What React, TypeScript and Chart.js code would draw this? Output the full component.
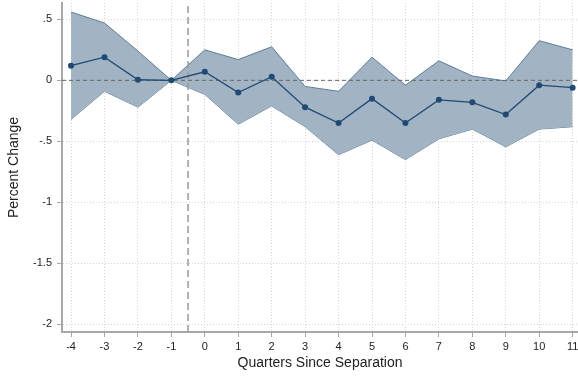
import React, { useEffect, useRef } from "react";
import { Chart, registerables } from "chart.js";

Chart.register(...registerables);

const quarters = [-4, -3, -2, -1, 0, 1, 2, 3, 4, 5, 6, 7, 8, 9, 10, 11];
const estimate = [0.12, 0.19, 0.005, 0, 0.07, -0.1, 0.03, -0.22, -0.35, -0.15, -0.35, -0.16, -0.18, -0.28, -0.04, -0.06];
const upperCI = [0.56, 0.47, 0.24, 0, 0.25, 0.17, 0.275, -0.05, -0.09, 0.19, -0.04, 0.16, 0.035, -0.005, 0.325, 0.25];
const lowerCI = [-0.32, -0.09, -0.22, 0, -0.115, -0.36, -0.21, -0.38, -0.61, -0.49, -0.65, -0.48, -0.4, -0.545, -0.4, -0.38];
const yTicks = [-2, -1.5, -1, -0.5, 0, 0.5];
const xMin = -4.27;
const xMax = 11.16;
const yMin = -2.063;
const yMax = 0.634;
const separationLine = -0.5;

const FONT = "'Liberation Sans', Arial, Helvetica, sans-serif";

export default function App() {
  const ref = useRef<HTMLCanvasElement>(null);
  useEffect(() => {
    document.body.style.margin = "0";
    const ctx = ref.current!;
    const pts = (arr: number[]) => quarters.map((q, i) => ({ x: q, y: arr[i] }));
    const chart = new Chart(ctx, {
      type: "line",
      data: {
        datasets: [
          {
            data: pts(estimate),
            borderColor: "#1f4a73",
            backgroundColor: "#1f4a73",
            borderWidth: 1.3,
            pointRadius: 3,
            pointBorderWidth: 0,
            tension: 0,
            fill: false,
            order: 0,
          },
          {
            data: [{ x: xMin, y: 0 }, { x: xMax, y: 0 }],
            borderColor: "#666666",
            borderWidth: 1,
            borderDash: [4, 3],
            pointRadius: 0,
            fill: false,
            order: 1,
          },
          {
            data: [{ x: separationLine, y: yMin }, { x: separationLine, y: yMax }],
            borderColor: "#999999",
            borderWidth: 1.5,
            borderDash: [7, 4],
            pointRadius: 0,
            fill: false,
            order: 2,
          },
          {
            data: pts(upperCI),
            borderColor: "#5d7d99",
            backgroundColor: "rgb(162,179,196)",
            borderWidth: 1,
            pointRadius: 0,
            tension: 0,
            fill: "+1",
            order: 3,
          },
          {
            data: pts(lowerCI),
            borderColor: "#5d7d99",
            borderWidth: 1,
            pointRadius: 0,
            tension: 0,
            fill: false,
            order: 4,
          },
        ],
      },
      options: {
        animation: false,
        responsive: false,
        events: [],
        layout: { autoPadding: false, padding: { top: 3, left: 0, right: 0, bottom: 0 } },
        plugins: { legend: { display: false }, tooltip: { enabled: false } },
        scales: {
          x: {
            type: "linear",
            min: xMin,
            max: xMax,
            afterBuildTicks: (s: any) => {
              s.ticks = quarters.map((v) => ({ value: v }));
            },
            afterFit: (s: any) => {
              s.height = 44;
              s.paddingLeft = 0;
              s.paddingRight = 0;
            },
            ticks: {
              font: { family: FONT, size: 11 },
              color: "#222222",
              padding: 3,
              maxRotation: 0,
              autoSkip: false,
              callback: (v: any) => String(v),
            },
            grid: {
              color: "#d4d4d4",
              lineWidth: 1,
              tickLength: 5,
              tickColor: "#a8a8a8",
              tickWidth: 1,
              tickBorderDash: [],
            },
            border: { display: true, color: "#a8a8a8", width: 2, dash: [1, 2] },
            title: {
              display: true,
              text: "Quarters Since Separation",
              font: { family: FONT, size: 14 },
              color: "#222222",
              padding: { top: 0, bottom: 4 },
            },
          },
          y: {
            type: "linear",
            min: yMin,
            max: yMax,
            afterBuildTicks: (s: any) => {
              s.ticks = yTicks.map((v) => ({ value: v }));
            },
            afterFit: (s: any) => {
              s.width = 62;
              s.paddingTop = 0;
              s.paddingBottom = 0;
            },
            ticks: {
              font: { family: FONT, size: 11 },
              color: "#222222",
              padding: 5,
              autoSkip: false,
              callback: (v: any) => {
                const n = Number(v);
                if (n === 0) return "0";
                return String(n).replace("0.", ".");
              },
            },
            grid: {
              color: "#d4d4d4",
              lineWidth: 1,
              tickLength: 5,
              tickColor: "#a8a8a8",
              tickWidth: 1,
              tickBorderDash: [],
            },
            border: { display: true, color: "#a8a8a8", width: 2, dash: [1, 2] },
            title: {
              display: true,
              text: "Percent Change",
              font: { family: FONT, size: 14 },
              color: "#222222",
              padding: { top: 6, bottom: 0 },
            },
          },
        },
      },
    } as any);
    return () => chart.destroy();
  }, []);
  return (
    <div style={{ position: "fixed", left: 0, top: 0, width: 578, height: 376 }}>
      <canvas ref={ref} width={578} height={376} />
    </div>
  );
}
